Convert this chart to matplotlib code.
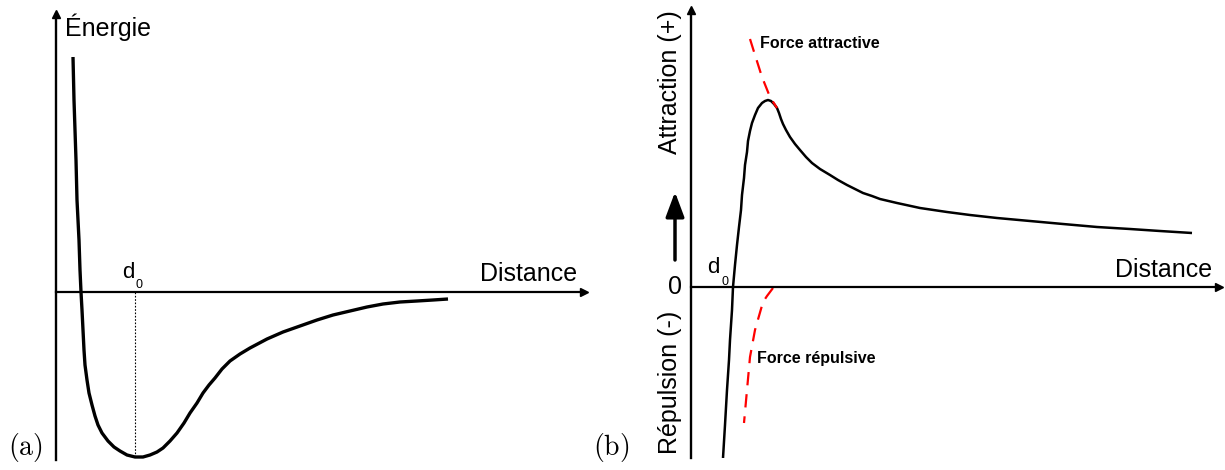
import matplotlib
matplotlib.use("Agg")
import matplotlib.pyplot as plt

plt.rcParams["font.family"] = ["Liberation Sans", "DejaVu Sans"]

# (a) potential energy vs distance (arbitrary units)
dist_a = [0.17, 0.18, 0.19, 0.20, 0.21, 0.23, 0.24, 0.25, 0.26, 0.27, 0.28, 0.29,
          0.31, 0.33, 0.36, 0.39, 0.42, 0.46, 0.52, 0.58, 0.64, 0.71, 0.79, 0.87,
          0.94, 1.01, 1.07, 1.14, 1.21, 1.28, 1.34, 1.41, 1.47, 1.53, 1.59, 1.66,
          1.74, 1.84, 1.94, 2.11, 2.27, 2.44, 2.61, 2.77, 2.94, 3.11, 3.27, 3.44,
          3.61, 3.77, 3.92]
energy = [2.35, 1.92, 1.62, 1.32, 0.92, 0.52, 0.22, 0.00, -0.18, -0.38, -0.58, -0.73,
          -0.88, -1.01, -1.13, -1.24, -1.33, -1.41, -1.49, -1.55, -1.59, -1.63, -1.65, -1.65,
          -1.63, -1.60, -1.56, -1.49, -1.41, -1.31, -1.21, -1.11, -1.01, -0.93, -0.86, -0.77,
          -0.69, -0.62, -0.56, -0.47, -0.40, -0.34, -0.28, -0.23, -0.19, -0.15, -0.12, -0.10,
          -0.09, -0.08, -0.07]
d0_a = 0.79
e_min = -1.65

# (b) force vs distance
dist_b = [0.32, 0.34, 0.36, 0.38, 0.39, 0.41, 0.42, 0.44, 0.46, 0.48, 0.50, 0.51,
          0.53, 0.54, 0.56, 0.57, 0.59, 0.61, 0.64, 0.67, 0.71, 0.74, 0.77, 0.80,
          0.83, 0.86, 0.88, 0.90, 0.92, 0.95, 0.99, 1.04, 1.09, 1.15, 1.21, 1.29,
          1.39, 1.47, 1.56, 1.64, 1.72, 1.81, 1.89, 2.06, 2.29, 2.56, 2.79, 3.06,
          3.39, 3.72, 4.06, 4.39, 4.69, 5.01]
force = [-1.71, -1.38, -1.03, -0.73, -0.53, -0.23, 0.00, 0.22, 0.42, 0.60, 0.77, 0.92,
         1.09, 1.22, 1.35, 1.46, 1.56, 1.64, 1.72, 1.79, 1.84, 1.86, 1.87, 1.86,
         1.83, 1.79, 1.74, 1.68, 1.63, 1.57, 1.50, 1.43, 1.37, 1.30, 1.24, 1.18,
         1.12, 1.07, 1.02, 0.98, 0.94, 0.91, 0.88, 0.84, 0.79, 0.75, 0.72, 0.69,
         0.66, 0.63, 0.60, 0.58, 0.56, 0.54]

# red dashed pieces
attr_x = [0.59, 0.64, 0.71, 0.79, 0.86]
attr_y = [2.48, 2.32, 2.10, 1.90, 1.79]
rep_x = [0.82, 0.76, 0.72, 0.64, 0.59, 0.56, 0.53]
rep_y = [-0.01, -0.09, -0.15, -0.43, -0.70, -1.03, -1.36]

W, H = 1225, 470
fig = plt.figure(figsize=(12.25, 4.7), dpi=100)


def arrow_axes(ax):
    # axes drawn as arrows crossing at the origin
    for s in ["top", "right"]:
        ax.spines[s].set_visible(False)
    ax.spines["left"].set_position(("data", 0))
    ax.spines["bottom"].set_position(("data", 0))
    ax.spines["left"].set_linewidth(1.7)
    ax.spines["bottom"].set_linewidth(1.6)
    ax.set_xticks([])
    ax.set_yticks([])
    ax.plot(1, 0, ">k", ms=6, transform=ax.get_yaxis_transform(), clip_on=False)
    ax.plot(0, 1, "^k", ms=6, transform=ax.get_xaxis_transform(), clip_on=False)
    ax.patch.set_visible(False)


# ---- panel (a)
ax1 = fig.add_axes([56 / W, 10 / H, 528 / W, 446 / H])
ax1.set_xlim(0, 5.28)
ax1.set_ylim(-1.68, 2.78)
arrow_axes(ax1)
ax1.plot(dist_a, energy, color="black", lw=2.4, solid_joinstyle="round", solid_capstyle="butt")
ax1.vlines(d0_a, e_min, 0, colors="black", linestyles=(0, (1.5, 1.5)), lw=0.8)
ax1.text(0.09, 2.56, "Énergie", fontsize=18, va="baseline")
ax1.text(5.21, 0.11, "Distance", fontsize=18, ha="right", va="baseline")
ax1.text(0.66, 0.14, "d", fontsize=16, va="baseline")
ax1.text(0.80, 0.04, "0", fontsize=9, va="baseline")

# ---- panel (b)
ax2 = fig.add_axes([691 / W, 12 / H, 528 / W, 448 / H])
ax2.set_xlim(0, 5.28)
ax2.set_ylim(-1.71, 2.77)
arrow_axes(ax2)
ax2.plot(dist_b, force, color="black", lw=1.8, solid_joinstyle="round", solid_capstyle="butt")
ax2.plot(attr_x, attr_y, color="red", lw=1.6, dashes=(6, 4))
ax2.plot(rep_x, rep_y, color="red", lw=1.6, dashes=(6, 4))
ax2.text(0.69, 2.39, "Force attractive", fontsize=11.5, fontweight="bold", va="baseline")
ax2.text(0.66, -0.76, "Force répulsive", fontsize=11.5, fontweight="bold", va="baseline")
ax2.text(5.21, 0.10, "Distance", fontsize=18, ha="right", va="baseline")
ax2.text(0.16, 0.14, "d", fontsize=16, va="baseline")
ax2.text(0.31, 0.02, "0", fontsize=9, va="baseline")
ax2.text(-0.16, 0, "0", fontsize=18, ha="center", va="center")
ax2.text(-0.21, 2.05, "Attraction (+)", fontsize=18, rotation=90, ha="center", va="center")
ax2.text(-0.21, -0.95, "Répulsion (-)", fontsize=18, rotation=90, ha="center", va="center")
ax2.annotate("", xy=(-0.16, 0.95), xytext=(-0.16, 0.27), annotation_clip=False,
             arrowprops=dict(arrowstyle="-|>,head_length=0.75,head_width=0.28",
                             mutation_scale=20, lw=2.5, color="black",
                             shrinkA=0, shrinkB=0))

# panel letters
fig.text(8 / W, 1 - 447 / H, r"$\mathrm{(a)}$", fontsize=20, va="center", math_fontfamily="cm")
fig.text(593 / W, 1 - 447 / H, r"$\mathrm{(b)}$", fontsize=20, va="center", math_fontfamily="cm")

fig.savefig("out.png", dpi=100)
